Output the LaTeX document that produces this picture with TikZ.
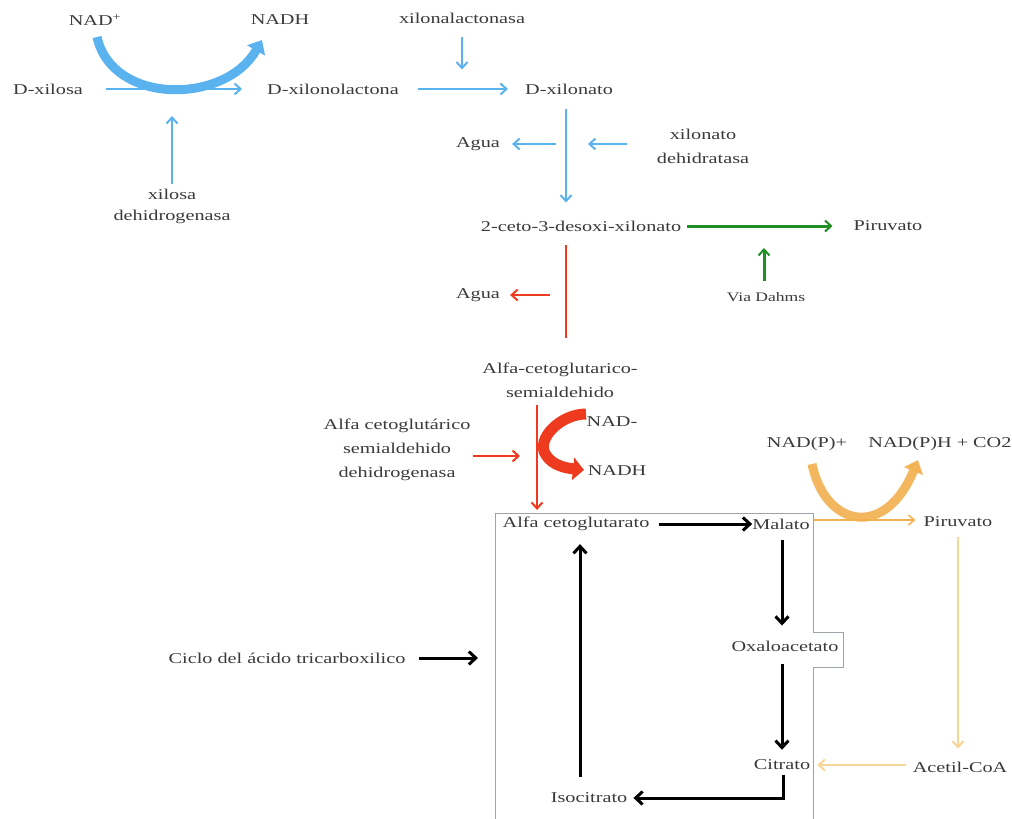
\documentclass[tikz,border=0pt]{standalone}
\usepackage{fontspec}
\setmainfont{Liberation Serif}[FakeStretch=1.35]
\usetikzlibrary{arrows.meta}
\definecolor{tx}{HTML}{3A3A3A}
\definecolor{bl}{HTML}{5AB2EE}
\definecolor{rd}{HTML}{EE3A1E}
\definecolor{gr}{HTML}{1F8F22}
\definecolor{og}{HTML}{F2B04E}
\definecolor{lo}{HTML}{F8D496}
\definecolor{bx}{HTML}{9AA4AA}
\tikzset{
  lab/.style={text=tx,font=\fontsize{15}{24}\selectfont,inner sep=1pt,align=center},
  small/.style={text=tx,font=\fontsize{13}{15}\selectfont,inner sep=1pt},
  barb/.style={-{Straight Barb[length=6pt,width=11pt,line width=2pt]}},
  barbk/.style={-{Straight Barb[length=7pt,width=13pt,line width=3pt]}},
  bluearr/.style={barb,draw=bl,line width=2.4pt},
  redarr/.style={barb,draw=rd,line width=2pt},
  grarr/.style={barb,draw=gr,line width=3pt},
  blk/.style={barbk,draw=black,line width=3pt},
  loarr/.style={barb,draw=lo,line width=2pt},
}
\begin{document}
\begin{tikzpicture}[x=1pt,y=-1pt]
\useasboundingbox (0,0) rectangle (1012,819);
% TCA box
\draw[bx,line width=0.8pt] (495,819) -- (495,513) -- (813,513) -- (813,632) -- (843,632) -- (843,667) -- (813,667) -- (813,819);
% nodes
\node[lab] (nadp) at (95,20) {NAD\textsuperscript{+}};
\node[lab] (nadh) at (280,20) {NADH};
\node[lab] (dxil) at (48,89) {D-xilosa};
\node[lab] (dxlac) at (333,89) {D-xilonolactona};
\node[lab] (dxnato) at (569,89) {D-xilonato};
\node[lab] (xlasa) at (462,18) {xilonalactonasa};
\node[lab, font=\fontsize{15}{21}\selectfont] (xdh) at (172,206) {xilosa\\dehidrogenasa};
\node[lab] (agua1) at (478,144) {Agua};
\node[lab] (xdt) at (703,146) {xilonato\\dehidratasa};
\node[lab] (ceto) at (581,226) {2-ceto-3-desoxi-xilonato};
\node[lab] (piru1) at (888,226) {Piruvato};
\node[small] (dahms) at (766,297) {Via Dahms};
\node[lab] (agua2) at (478,295) {Agua};
\node[lab] (akgsa) at (560,380) {Alfa-cetoglutarico-\\semialdehido};
\node[lab] (akgdh) at (397,450) {Alfa cetoglutárico\\semialdehido\\dehidrogenasa};
\node[lab] (nadm) at (612,422) {NAD-};
\node[lab] (nadh2) at (617,471) {NADH};
\node[lab] (akg) at (576,524) {Alfa cetoglutarato};
\node[lab] (mal) at (781,524) {Malato};
\node[lab] (oxa) at (785,646) {Oxaloacetato};
\node[lab] (cit) at (782,765) {Citrato};
\node[lab] (iso) at (589,798) {Isocitrato};
\node[lab] (ciclo) at (287,658) {Ciclo del ácido tricarboxilico};
\node[lab] (nadpp) at (807,444) {NAD(P)+};
\node[lab] (nadph) at (940,444) {NAD(P)H + CO2};
\node[lab] (piru2) at (958,522) {Piruvato};
\node[lab] (acoa) at (960,767) {Acetil-CoA};
% helper coordinates
\coordinate (c1) at (172,116);
\coordinate (c2) at (566,144);
\coordinate (c3) at (566,295);
\coordinate (c4) at (764,226);
\coordinate (c5) at (537,456);
\coordinate (c6) at (783,798);
\coordinate (c7) at (478,658);
\coordinate (c8) at (580,777);
\coordinate (c9) at (566,245);
\coordinate (c10) at (566,338);
% blue section
\draw[bluearr] ([xshift=22pt]dxil.east) -- ([xshift=-24pt]dxlac.west);
\draw[bl,line width=9pt,-{Triangle[length=12pt,width=20pt]}] (97,37) .. controls (112,105) and (225,105) .. (262,40);
\draw[bluearr] ([yshift=3pt]xdh.north) -- (c1);
\draw[bluearr] ([xshift=18pt]dxlac.east) -- ([xshift=-16pt]dxnato.west);
\draw[bluearr] ([yshift=-13pt]xlasa.south) -- ++(0,32);
\draw[bluearr] ([yshift=-14pt]dxnato.south -| c2) -- ([yshift=17pt]ceto.north -| c2);
\draw[bluearr] ([xshift=-10pt]c2) -- ([xshift=11pt]agua1.east |- c2);
\draw[bluearr] ([xshift=-29pt]xdt.west |- c2) -- ([xshift=22pt]c2);
% green
\draw[grarr] ([xshift=5pt]ceto.east) -- ([xshift=-20pt]piru1.west);
\draw[grarr] ([yshift=10pt]dahms.north -| c4) -- ([yshift=-22pt]c4);
% red
\draw[rd,line width=2pt] (c9) -- (c10);
\draw[redarr] ([xshift=-16pt]c3) -- ([xshift=9pt]agua2.east |- c3);
\draw[redarr] ([yshift=-6pt]akgsa.south -| c5) -- ([yshift=6pt]akg.north -| c5);
\draw[redarr] ([xshift=1pt]akgdh.east |- c5) -- ([xshift=-17pt]c5);
\draw[rd,line width=11pt,-{Triangle[length=11pt,width=22pt]}] (586,414) .. controls (560,414) and (535,440) .. (546,455) .. controls (552,465) and (565,468) .. (584,470);
% black TCA
\draw[blk] ([xshift=8pt]akg.east) -- ([xshift=1pt]mal.west);
\draw[blk] ([yshift=-10pt]mal.south -| 782,0) -- ([yshift=14pt]oxa.north -| 782,0);
\draw[blk] ([yshift=-12pt]oxa.south -| 782,0) -- ([yshift=9pt]cit.north -| 782,0);
\draw[blk] ([yshift=-4pt]cit.south -| c6) -- (c6) -- ([xshift=5pt]iso.east);
\draw[blk] (c8) -- ([yshift=-12pt]akg.south -| c8);
\draw[blk] ([xshift=12pt]ciclo.east) -- (c7);
% orange
\draw[og,line width=1.5pt,-{Straight Barb[length=6pt,width=10pt,line width=1.5pt]}] ([xshift=3pt]mal.east |- 0,520) -- ([xshift=-7pt]piru2.west |- 0,520);
\draw[og,opacity=0.9,line width=9pt,-{Triangle[length=12pt,width=20pt]}] (812,464) .. controls (825,527) and (885,540) .. (918,460);
\draw[loarr] ([yshift=-9pt]piru2.south) -- ([yshift=12pt]acoa.north -| piru2.south);
\draw[loarr] ([xshift=-6pt]acoa.west |- 0,765) -- ([xshift=6pt]cit.east |- 0,765);
\end{tikzpicture}
\end{document}
